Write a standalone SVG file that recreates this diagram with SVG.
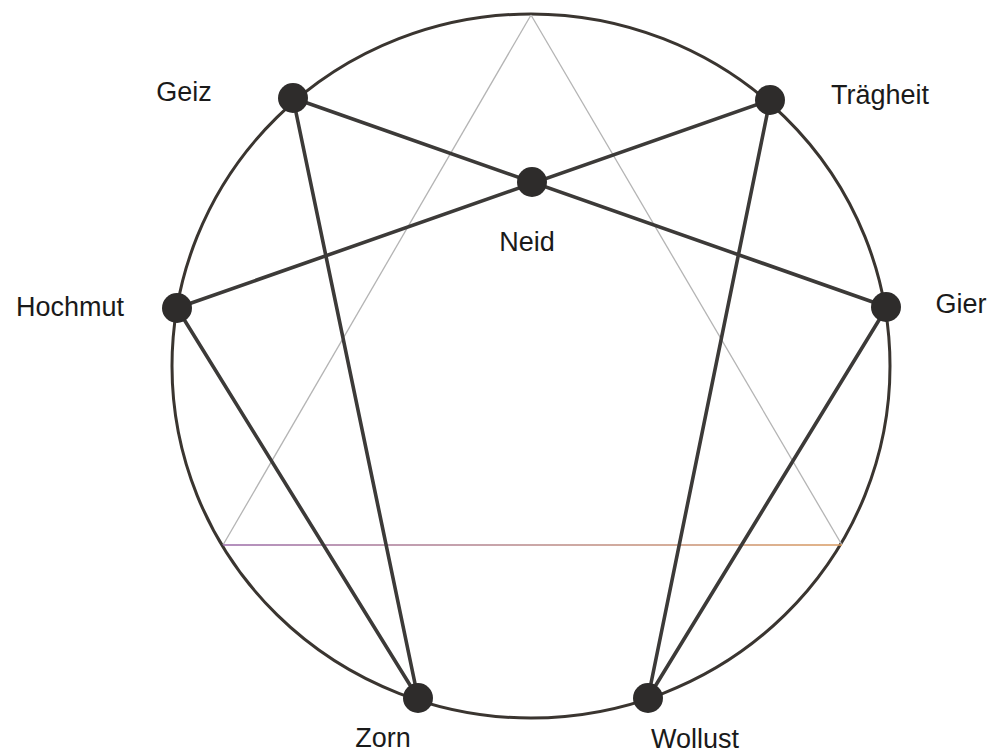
<svg xmlns="http://www.w3.org/2000/svg" width="994" height="755" viewBox="0 0 994 755">
<defs>
<linearGradient id="baseGrad" x1="0" y1="0" x2="1" y2="0">
<stop offset="0" stop-color="#9a6aa8"/>
<stop offset="0.5" stop-color="#b98a8a"/>
<stop offset="1" stop-color="#d89a60"/>
</linearGradient>
<style>
.ring{fill:none;stroke:#3a3530;stroke-width:3}
.tri{fill:none;stroke:#b4b4b4;stroke-width:1.3}
.base{fill:none;stroke:url(#baseGrad);stroke-width:1.4}
.edge{fill:none;stroke:#3c3a38;stroke-width:3.6;stroke-linecap:round}
.dot{fill:#2e2c2b}
.lbl{font-family:"Liberation Sans",Arial,sans-serif;font-size:27px;fill:#1a1a1a;text-anchor:middle}
</style>
</defs>
<rect width="994" height="755" fill="#ffffff"/>
<ellipse class="ring" cx="531" cy="366" rx="359" ry="352"/>
<g id="triangle">
<line class="tri" x1="531" y1="15" x2="223" y2="545"/>
<line class="tri" x1="531" y1="15" x2="842" y2="545"/>
<line x1="223" y1="545" x2="842" y2="545.01" class="base"/>
</g>
<g id="connectors">
<line class="edge" x1="293" y1="98" x2="887" y2="307"/>
<line class="edge" x1="770" y1="100" x2="177" y2="308"/>
<line class="edge" x1="293" y1="98" x2="418" y2="698"/>
<line class="edge" x1="177" y1="308" x2="418" y2="698"/>
<line class="edge" x1="770" y1="100" x2="648" y2="698"/>
<line class="edge" x1="887" y1="307" x2="648" y2="698"/>
</g>
<g id="geiz"><circle class="dot" cx="293" cy="98" r="15"/><text class="lbl" x="184" y="101">Geiz</text></g>
<g id="traegheit"><circle class="dot" cx="770" cy="100" r="15"/><text class="lbl" x="880" y="104">Trägheit</text></g>
<g id="neid"><circle class="dot" cx="532" cy="182" r="15"/><text class="lbl" x="527" y="251">Neid</text></g>
<g id="hochmut"><circle class="dot" cx="177" cy="308" r="15"/><text class="lbl" x="70" y="316">Hochmut</text></g>
<g id="gier"><circle class="dot" cx="886" cy="307" r="15"/><text class="lbl" x="961" y="313">Gier</text></g>
<g id="zorn"><circle class="dot" cx="418" cy="698" r="15"/><text class="lbl" x="383" y="747">Zorn</text></g>
<g id="wollust"><circle class="dot" cx="648" cy="698" r="15"/><text class="lbl" x="695" y="748">Wollust</text></g>
</svg>
